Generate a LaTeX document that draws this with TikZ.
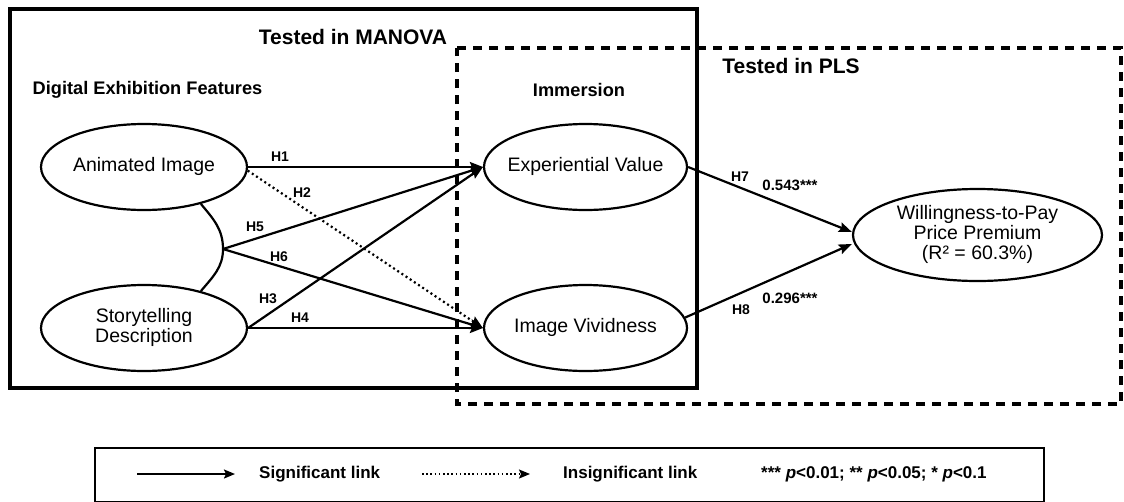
\documentclass[tikz,border=0pt]{standalone}
\usepackage{fontspec}
\setmainfont{Liberation Sans}
\usetikzlibrary{shapes.geometric,arrows.meta}
\newcommand\ellbox[1]{\makebox[0pt][c]{\begin{tabular}{@{}c@{}}#1\end{tabular}}}
\begin{document}
\begin{tikzpicture}[x=1pt,y=-1pt,
  ell/.style={draw, ellipse, line width=2.2pt, inner sep=0pt,
    font=\fontsize{19.5}{21}\selectfont},
  conn/.style={line width=2.2pt, -{Stealth[length=13pt,width=10pt,inset=2pt]}},
  dotconn/.style={line width=2.2pt, dash pattern=on 2pt off 3pt,
    -{Stealth[length=13pt,width=10pt,inset=2pt]}},
  hlab/.style={font=\fontsize{14}{16}\bfseries\selectfont, inner sep=0pt},
  coef/.style={font=\fontsize{15}{17}\bfseries\selectfont, inner sep=0pt},
  bigtitle/.style={font=\fontsize{21}{24}\bfseries\selectfont, inner sep=0pt},
  grouptitle/.style={font=\fontsize{18.2}{21}\bfseries\selectfont, inner sep=0pt},
  legtext/.style={font=\fontsize{17}{19}\bfseries\selectfont, inner sep=0pt, anchor=west},
  solidbox/.style={line width=4pt},
  dashbox/.style={line width=4pt, dash pattern=on 9pt off 7pt}
]
\useasboundingbox (0,0) rectangle (1124,501);
\clip (0,0) rectangle (1124,501);

% group boxes
\draw[solidbox] (10,9) rectangle (697,388);
\draw[dashbox] (457,48) -- (1121,48) -- (1121,404) -- (457,404) -- cycle;

% titles
\node[bigtitle] (tmanova) at (353,37) {Tested in MANOVA};
\node[bigtitle] (tpls) at (791,66) {Tested in PLS};
\node[grouptitle] (tdef) at (147.5,90) {Digital Exhibition Features};
\node[grouptitle] (timm) at (579,90) {Immersion};

% constructs
\node[ell, minimum width=206pt, minimum height=86pt] (ai) at (144,167) {\ellbox{Animated Image}};
\node[ell, minimum width=206pt, minimum height=86pt] (sd) at (144,328) {\ellbox{Storytelling\\[-1pt]Description}};
\node[ell, minimum width=203pt, minimum height=86pt] (ev) at (585.5,167) {\ellbox{Experiential Value}};
\node[ell, minimum width=203pt, minimum height=86pt] (iv) at (585.5,328) {\ellbox{Image Vividness}};
\node[ell, minimum width=249pt, minimum height=92pt] (wtp) at (977.5,235) {\ellbox{Willingness-to-Pay\\[-1pt]Price Premium\\[-1pt](R² = 60.3\%)}};

% correlation arc (interaction)
\coordinate (corr) at (223,249);
\draw[line width=2.2pt] (ai.-33) to[out=-50,in=90] (corr) to[out=-90,in=50] (sd.33);

% hypothesised links
\draw[conn] (ai.east) -- (ev.west);
\draw[dotconn] (ai.-2) -- (iv.west);
\draw[conn] (corr) -- (ev.west);
\draw[conn] (corr) -- (iv.west);
\draw[conn] (sd.east) -- (ev.west);
\draw[conn] (sd.east) -- (iv.west);
\draw[conn] (ev.east) -- ([yshift=3pt]wtp.west);
\draw[conn] (iv.6) -- ([yshift=-9pt]wtp.west);

% link labels
\node[hlab] (h1) at (280,157) {H1};
\node[hlab] (h2) at (302,193) {H2};
\node[hlab] (h5) at (255,227) {H5};
\node[hlab] (h6) at (279,257) {H6};
\node[hlab] (h3) at (268,299) {H3};
\node[hlab] (h4) at (300,318) {H4};
\node[hlab] (h7) at (740,177) {H7};
\node[coef] (c7) at (790,185) {0.543***};
\node[hlab] (h8) at (741,310) {H8};
\node[coef] (c8) at (790,298) {0.296***};

% legend
\draw[line width=2.5pt] (95,448) rectangle (1044,502);
\coordinate (ls1) at (137,474);
\coordinate (ls2) at (235,474);
\coordinate (ld1) at (422,474);
\coordinate (ld2) at (530,474);
\draw[line width=1.8pt, -{Stealth[length=11pt,width=9pt,inset=2pt]}] (ls1) -- (ls2);
\draw[line width=1.6pt, dash pattern=on 1.6pt off 2.6pt, -{Stealth[length=11pt,width=9pt,inset=2pt]}] (ld1) -- (ld2);
\node[legtext] (lsig) at (259,474) {Significant link};
\node[legtext] (lins) at (563,474) {Insignificant link};
\node[legtext] (lp) at (761,474) {*** \textit{p}<0.01; ** \textit{p}<0.05; * \textit{p}<0.1};
\end{tikzpicture}
\end{document}
